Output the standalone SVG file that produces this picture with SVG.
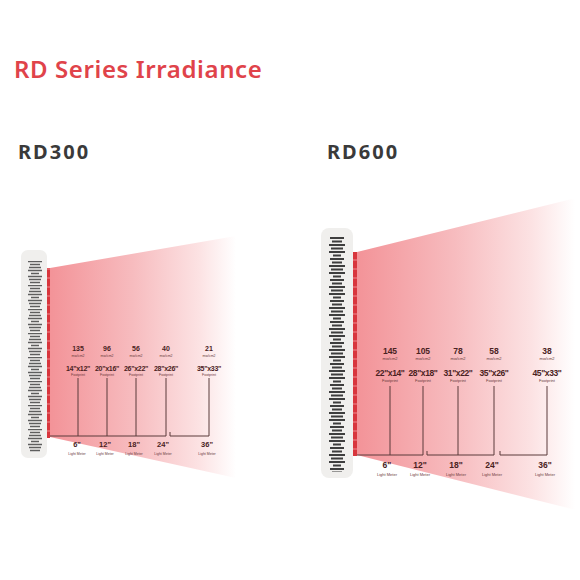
<svg xmlns="http://www.w3.org/2000/svg" width="580" height="580" viewBox="0 0 580 580">
<style>
.title{font-family:"Noto Sans","Open Sans",sans-serif;font-weight:600;font-size:24px;fill:#e0434a;letter-spacing:0.6px}
.model{font-family:"Noto Sans","Open Sans",sans-serif;font-weight:700;font-size:20px;fill:#3a3a3a;letter-spacing:2px}
.num{font-family:"Liberation Sans",sans-serif;font-weight:700;fill:#4a2222;text-anchor:middle}
.sub{font-family:"Liberation Sans",sans-serif;fill:#6a3a3a;text-anchor:middle}
.ln{stroke:#5a3a3a;stroke-width:1;fill:none}
.panel{fill:#f0efed}
</style>
<defs>
<linearGradient id="beam300" gradientUnits="userSpaceOnUse" x1="50" y1="0" x2="236" y2="0">
<stop offset="0" stop-color="#f39398"/>
<stop offset="0.45" stop-color="#f7bcbf"/>
<stop offset="0.8" stop-color="#fce2e3"/>
<stop offset="1" stop-color="#ffffff"/>
</linearGradient>
<linearGradient id="beam600" gradientUnits="userSpaceOnUse" x1="357" y1="0" x2="575" y2="0">
<stop offset="0" stop-color="#f39398"/>
<stop offset="0.45" stop-color="#f7bcbf"/>
<stop offset="0.8" stop-color="#fce2e3"/>
<stop offset="1" stop-color="#ffffff"/>
</linearGradient>
<pattern id="stripes300" patternUnits="userSpaceOnUse" x="0" y="261" width="70" height="24">
<path d="M28 0.5h14M30 3.5h10M29 6.5h12M28 9.5h14M31 12.5h8M28 15.5h14M29 18.5h12M30 21.5h10" stroke="#5e5e5e" stroke-width="1.4"/>
</pattern>
<pattern id="stripes600" patternUnits="userSpaceOnUse" x="0" y="237" width="380" height="21">
<path d="M330 1h14M332 4.5h10M329 8h16M331 11.5h12M329 15h16M333 18.5h8" stroke="#3e3e3e" stroke-width="2"/>
</pattern>
<pattern id="dash" patternUnits="userSpaceOnUse" x="0" y="0" width="10" height="9">
<rect x="0" y="0" width="10" height="9" fill="#d8363d"/>
<rect x="0" y="7.5" width="10" height="1" fill="#ee8a8e"/>
</pattern>
</defs>

<text class="title" x="14" y="78">RD Series Irradiance</text>

<g id="rd300">
<text class="model" x="18" y="159">RD300</text>
<polygon points="50,268 236,236 236,478 50,437" fill="url(#beam300)"/>
<rect class="panel" x="21" y="250" width="26" height="208" rx="7"/>
<rect x="28" y="260" width="14" height="192" fill="url(#stripes300)"/>
<rect x="47" y="268" width="3" height="170" fill="url(#dash)"/>
<g id="rd300-connectors">
<path class="ln" d="M50 436H166M78 378V436M107 378V436M136 378V436M166 378V436M170 432V436H209M209 378V436"/>
</g>
<g id="rd300-6">
<text class="num" x="78" y="351" font-size="7">135</text>
<text class="sub" x="78" y="357" font-size="3.5">mw/cm2</text>
<text class="num" x="78" y="371" font-size="7" letter-spacing="-0.3">14"x12"</text>
<text class="sub" x="78" y="375.5" font-size="3.5">Footprint</text>
<text class="num" x="77" y="447" font-size="7.5">6"</text>
<text class="sub" x="77" y="455" font-size="3.5">Light Meter</text>
</g>
<g id="rd300-12">
<text class="num" x="107" y="351" font-size="7">96</text>
<text class="sub" x="107" y="357" font-size="3.5">mw/cm2</text>
<text class="num" x="107" y="371" font-size="7" letter-spacing="-0.3">20"x16"</text>
<text class="sub" x="107" y="375.5" font-size="3.5">Footprint</text>
<text class="num" x="105" y="447" font-size="7.5">12"</text>
<text class="sub" x="105" y="455" font-size="3.5">Light Meter</text>
</g>
<g id="rd300-18">
<text class="num" x="136" y="351" font-size="7">56</text>
<text class="sub" x="136" y="357" font-size="3.5">mw/cm2</text>
<text class="num" x="136" y="371" font-size="7" letter-spacing="-0.3">26"x22"</text>
<text class="sub" x="136" y="375.5" font-size="3.5">Footprint</text>
<text class="num" x="134" y="447" font-size="7.5">18"</text>
<text class="sub" x="134" y="455" font-size="3.5">Light Meter</text>
</g>
<g id="rd300-24">
<text class="num" x="166" y="351" font-size="7">40</text>
<text class="sub" x="166" y="357" font-size="3.5">mw/cm2</text>
<text class="num" x="166" y="371" font-size="7" letter-spacing="-0.3">28"x26"</text>
<text class="sub" x="166" y="375.5" font-size="3.5">Footprint</text>
<text class="num" x="163" y="447" font-size="7.5">24"</text>
<text class="sub" x="163" y="455" font-size="3.5">Light Meter</text>
</g>
<g id="rd300-36">
<text class="num" x="209" y="351" font-size="7">21</text>
<text class="sub" x="209" y="357" font-size="3.5">mw/cm2</text>
<text class="num" x="209" y="371" font-size="7" letter-spacing="-0.3">35"x33"</text>
<text class="sub" x="209" y="375.5" font-size="3.5">Footprint</text>
<text class="num" x="207" y="447" font-size="7.5">36"</text>
<text class="sub" x="207" y="455" font-size="3.5">Light Meter</text>
</g>
</g>

<g id="rd600">
<text class="model" x="327" y="159">RD600</text>
<polygon points="357,252 576,198 576,510 357,455" fill="url(#beam600)"/>
<rect class="panel" x="321" y="228" width="32" height="250" rx="8"/>
<rect x="329" y="236" width="16" height="236" fill="url(#stripes600)"/>
<rect x="353" y="252" width="4" height="204" fill="url(#dash)"/>
<g id="rd600-connectors">
<path class="ln" d="M357 455H423M390 386V455M423 386V455M427 451V455H494M458 386V455M494 386V455M500 451V455H547M547 386V455"/>
</g>
<g id="rd600-6">
<text class="num" x="390" y="354" font-size="8.5">145</text>
<text class="sub" x="390" y="360" font-size="4">mw/cm2</text>
<text class="num" x="390" y="376" font-size="8.5" letter-spacing="-0.4">22"x14"</text>
<text class="sub" x="390" y="382" font-size="4">Footprint</text>
<text class="num" x="387" y="468" font-size="8.5">6"</text>
<text class="sub" x="387" y="475.5" font-size="4">Light Meter</text>
</g>
<g id="rd600-12">
<text class="num" x="423" y="354" font-size="8.5">105</text>
<text class="sub" x="423" y="360" font-size="4">mw/cm2</text>
<text class="num" x="423" y="376" font-size="8.5" letter-spacing="-0.4">28"x18"</text>
<text class="sub" x="423" y="382" font-size="4">Footprint</text>
<text class="num" x="420" y="468" font-size="8.5">12"</text>
<text class="sub" x="420" y="475.5" font-size="4">Light Meter</text>
</g>
<g id="rd600-18">
<text class="num" x="458" y="354" font-size="8.5">78</text>
<text class="sub" x="458" y="360" font-size="4">mw/cm2</text>
<text class="num" x="458" y="376" font-size="8.5" letter-spacing="-0.4">31"x22"</text>
<text class="sub" x="458" y="382" font-size="4">Footprint</text>
<text class="num" x="456" y="468" font-size="8.5">18"</text>
<text class="sub" x="456" y="475.5" font-size="4">Light Meter</text>
</g>
<g id="rd600-24">
<text class="num" x="494" y="354" font-size="8.5">58</text>
<text class="sub" x="494" y="360" font-size="4">mw/cm2</text>
<text class="num" x="494" y="376" font-size="8.5" letter-spacing="-0.4">35"x26"</text>
<text class="sub" x="494" y="382" font-size="4">Footprint</text>
<text class="num" x="492" y="468" font-size="8.5">24"</text>
<text class="sub" x="492" y="475.5" font-size="4">Light Meter</text>
</g>
<g id="rd600-36">
<text class="num" x="547" y="354" font-size="8.5">38</text>
<text class="sub" x="547" y="360" font-size="4">mw/cm2</text>
<text class="num" x="547" y="376" font-size="8.5" letter-spacing="-0.4">45"x33"</text>
<text class="sub" x="547" y="382" font-size="4">Footprint</text>
<text class="num" x="545" y="468" font-size="8.5">36"</text>
<text class="sub" x="545" y="475.5" font-size="4">Light Meter</text>
</g>
</g>
</svg>
